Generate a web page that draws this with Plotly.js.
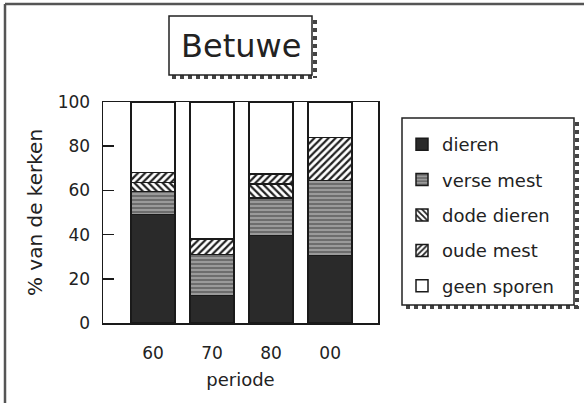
<!DOCTYPE html>
<html>
<head>
<meta charset="utf-8">
<script src="https://cdn.plot.ly/plotly-3.0.1.min.js"></script>
<style>html,body{margin:0;padding:0;background:#fff;}#chart{width:584px;height:403px;}</style>
</head>
<body>
<div id="chart"></div>
<script>
// ---- data ----
var categories = ['60', '70', '80', '00'];
var seriesNames = ['dieren', 'verse mest', 'dode dieren', 'oude mest', 'geen sporen'];
var dieren     = [49, 12.5, 39.5, 30.5];
var verseMest  = [10.5, 18.5, 17, 34];
var dodeDieren = [4, 0, 6.5, 0];
var oudeMest   = [4.5, 7, 4.5, 19.5];
var geenSporen = [32, 62, 32.5, 16];
var yTickVals  = [0, 20, 40, 60, 80, 100];
var chartTitle = 'Betuwe';
var xTitle = 'periode';
var yTitle = '% van de kerken';

// ---- layout helpers (pixel -> paper) ----
var L = 103, R = 378, T = 102, B = 323;
function px(x) { return (x - L) / (R - L); }
function py(y) { return (B - y) / (B - T); }

var FONT = 'DejaVu Sans, Arial, sans-serif';
var TXT = '#222';
var outline = {color: '#1a1a1a', width: 1.5};

var styles = [
  {color: '#2a2a2a', pattern: {shape: ''}},
  {color: '#8c8c8c', pattern: {shape: '-', fgcolor: '#5a5a5a', bgcolor: '#9a9a9a', size: 4, solidity: 0.35}},
  {color: '#ffffff', pattern: {shape: '\\', fgcolor: '#222', bgcolor: '#fff', size: 5, solidity: 0.45}},
  {color: '#ffffff', pattern: {shape: '/', fgcolor: '#222', bgcolor: '#fff', size: 5, solidity: 0.45}},
  {color: '#ffffff', pattern: {shape: ''}}
];
var values = [dieren, verseMest, dodeDieren, oudeMest, geenSporen];

var traces = values.map(function (v, i) {
  return {
    type: 'bar',
    name: seriesNames[i],
    x: categories,
    y: v,
    legendgroup: 'g' + i,
    marker: {color: styles[i].color, pattern: styles[i].pattern, line: outline},
    hoverinfo: 'none'
  };
});

function line(x0, y0, x1, y1, col, w, dash) {
  return {type: 'line', xref: 'paper', yref: 'paper', x0: px(x0), y0: py(y0), x1: px(x1), y1: py(y1),
          line: {color: col, width: w, dash: dash || 'solid'}, layer: 'below'};
}
function rect(x0, y0, x1, y1) {
  return {type: 'rect', xref: 'paper', yref: 'paper', x0: px(x0), y0: py(y0), x1: px(x1), y1: py(y1),
          fillcolor: '#ffffff', line: {color: '#222', width: 1.5}, layer: 'below'};
}

var shapes = [
  // outer frame (left + top)
  line(5, 4, 5, 403, '#555', 2.5),
  line(5, 4, 584, 4, '#555', 2.5),
  // title box shadow + box
  line(315, 20, 315, 78, '#444', 4, 'dot'),
  line(172, 77, 316, 77, '#444', 4, 'dot'),
  rect(169, 16, 312, 75),
  // legend box shadow + box
  line(577, 122, 577, 309, '#444', 4, 'dot'),
  line(406, 307, 578, 307, '#444', 4, 'dot'),
  rect(402, 118, 574, 305)
];

var layout = {
  width: 584, height: 403,
  margin: {l: L, r: 584 - R, t: T, b: 403 - B, pad: 0},
  paper_bgcolor: '#ffffff', plot_bgcolor: '#ffffff',
  barmode: 'stack',
  bargap: 0.254,
  showlegend: true,
  font: {family: FONT, color: TXT, size: 17},
  xaxis: {
    type: 'category',
    range: [-0.847, 3.81],
    showline: true, mirror: true, linecolor: '#1a1a1a', linewidth: 1.5,
    ticks: '', showgrid: false, zeroline: false,
    ticklabelstandoff: 14,
    tickfont: {family: FONT, size: 17, color: TXT},
    title: {text: xTitle, font: {family: FONT, size: 18, color: TXT}, standoff: 11}
  },
  yaxis: {
    range: [0, 100],
    tickvals: yTickVals,
    showline: true, mirror: true, linecolor: '#1a1a1a', linewidth: 1.5,
    ticks: 'inside', ticklen: 11, tickwidth: 1.5, tickcolor: '#1a1a1a',
    showgrid: false, zeroline: false,
    ticklabelstandoff: 8,
    tickfont: {family: FONT, size: 17, color: TXT},
    title: {text: yTitle, font: {family: FONT, size: 20, color: TXT}, standoff: 9}
  },
  legend: {
    x: px(402), y: py(126), xanchor: 'left', yanchor: 'top',
    bgcolor: 'rgba(0,0,0,0)', borderwidth: 0,
    traceorder: 'grouped', tracegroupgap: 9,
    font: {family: FONT, size: 18, color: TXT}
  },
  shapes: shapes,
  annotations: [{
    text: chartTitle, xref: 'paper', yref: 'paper', x: px(240.5), y: py(46),
    xanchor: 'center', yanchor: 'middle', showarrow: false,
    font: {family: FONT, size: 32, color: TXT}
  }]
};

Plotly.newPlot('chart', traces, layout, {displayModeBar: false, staticPlot: true});
</script>
</body>
</html>
